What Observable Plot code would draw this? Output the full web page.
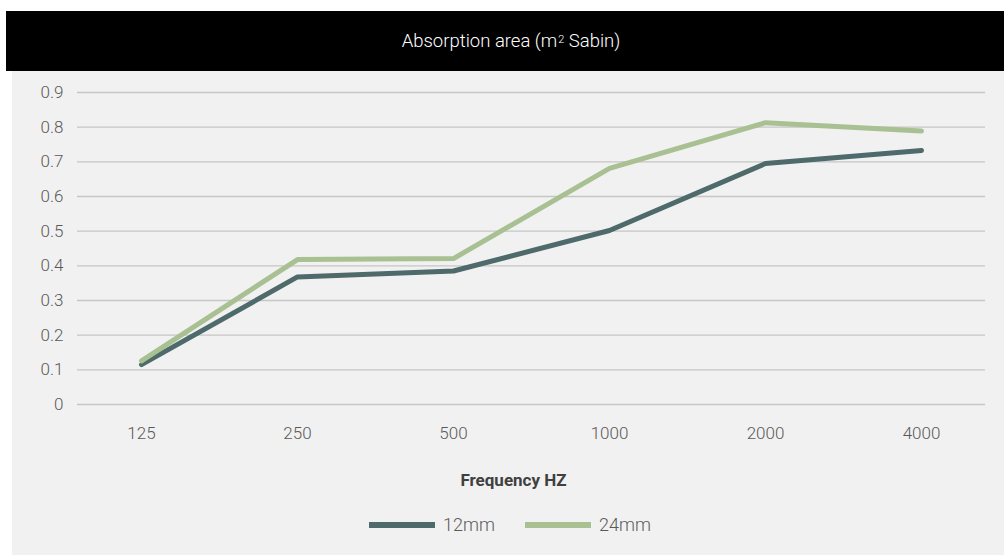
<!DOCTYPE html>
<html>
<head>
<meta charset="utf-8">
<script src="https://cdn.jsdelivr.net/npm/d3@7"></script>
<script src="https://cdn.jsdelivr.net/npm/@observablehq/plot@0.6"></script>
<style>
  html, body { margin: 0; padding: 0; background: #ffffff; width: 1004px; height: 555px; overflow: hidden; }
  body { position: relative; font-family: "Roboto", "DejaVu Sans", sans-serif; }
  #title { position: absolute; left: 6px; top: 11px; width: 986px; padding-left: 12px; height: 60px; background: #000; color: #fff;
    font-size: 18.5px; font-weight: 300; display: flex; align-items: center; justify-content: center; white-space: pre; }
  #title sup { font-size: 11px; position: relative; top: -4px; vertical-align: baseline; line-height: 0; margin-left: 1px; }
  #panel { position: absolute; left: 12px; top: 71px; width: 992px; height: 484px; background: #f1f1f1; }
  #chart { position: absolute; left: 0; top: 71px; }
  #chart svg { background: transparent; overflow: visible; }
  #legend { position: absolute; top: 514px; left: 8px; width: 1004px; display: flex; justify-content: center; align-items: center;
    font-size: 18px; font-weight: 300; color: #595959; }
  .item { display: flex; align-items: center; margin: 0 15px; }
  .sw { width: 66px; height: 6px; margin-right: 8px; }
</style>
</head>
<body>
<div id="title"><span>Absorption area (m<sup>2</sup> Sabin)</span></div>
<div id="panel"></div>
<div id="chart"></div>
<div id="legend"></div>
<script>
const frequencies = ["125", "250", "500", "1000", "2000", "4000"];
const values12mm = [0.115, 0.368, 0.385, 0.502, 0.695, 0.733];
const values24mm = [0.126, 0.418, 0.421, 0.681, 0.813, 0.789];
const seriesNames = ["12mm", "24mm"];
const seriesColors = ["#4e6a6b", "#a8c092"];
const yTicks = [0, 0.1, 0.2, 0.3, 0.4, 0.5, 0.6, 0.7, 0.8, 0.9];
const xTitle = "Frequency HZ";

const data = [];
frequencies.forEach((f, i) => {
  data.push({freq: f, value: values12mm[i], series: seriesNames[0]});
  data.push({freq: f, value: values24mm[i], series: seriesNames[1]});
});

const chart = Plot.plot({
  width: 1004,
  height: 420,
  marginLeft: 77,
  marginRight: 19,
  marginTop: 21,
  marginBottom: 87,
  style: { background: "transparent", fontFamily: "Roboto, 'DejaVu Sans', sans-serif", fontSize: "17px", color: "#595959" },
  x: { type: "point", domain: frequencies, padding: 0.4 },
  y: { domain: [0, 0.9] },
  color: { domain: seriesNames, range: seriesColors },
  marks: [
    Plot.gridY(yTicks, { stroke: "#c6c6c6", strokeOpacity: 1, strokeWidth: 1.3 }),
    Plot.axisY(yTicks, { tickSize: 0, tickPadding: 14, label: null, fontWeight: 300, fill: "#595959", tickFormat: d => d === 0 ? "0" : d3.format(".1f")(d) }),
    Plot.axisX({ tickSize: 0, tickPadding: 22, label: null, fontWeight: 300, fill: "#595959" }),
    Plot.text([xTitle], { text: d => d, frameAnchor: "bottom", dx: -18, dy: 81, fontWeight: 700, fill: "#404040", fontSize: 17 }),
    Plot.line(data, { x: "freq", y: "value", z: "series", stroke: "series", strokeWidth: 5, strokeLinecap: "round", strokeLinejoin: "round" })
  ]
});
document.getElementById("chart").appendChild(chart);

const legend = document.getElementById("legend");
seriesNames.forEach((name, i) => {
  const item = document.createElement("div");
  item.className = "item";
  const sw = document.createElement("div");
  sw.className = "sw";
  sw.style.background = seriesColors[i];
  const t = document.createElement("span");
  t.textContent = name;
  item.appendChild(sw);
  item.appendChild(t);
  legend.appendChild(item);
});
</script>
</body>
</html>
